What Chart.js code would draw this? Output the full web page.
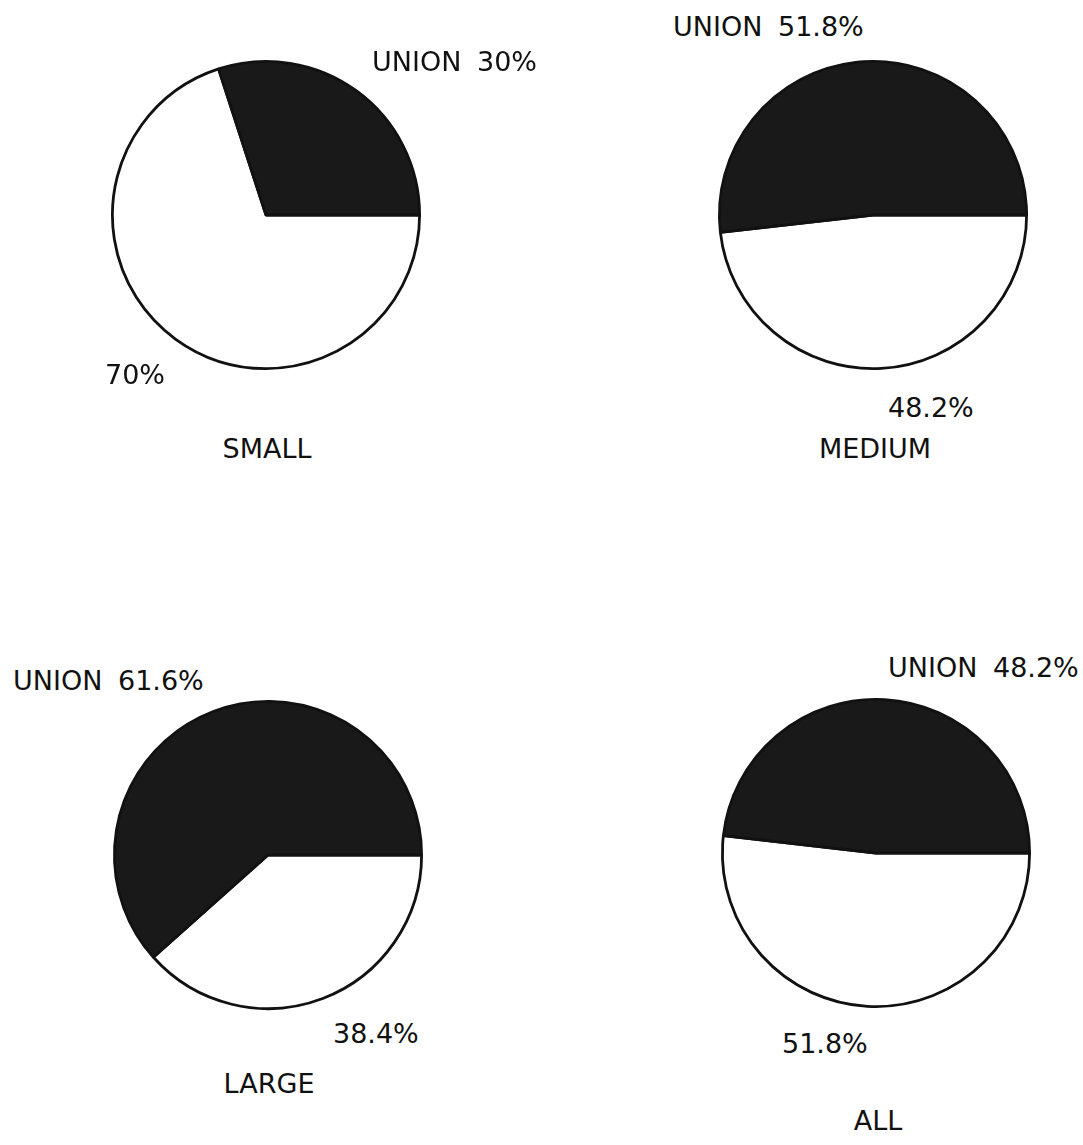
<!DOCTYPE html>
<html>
<head>
<meta charset="utf-8">
<script src="https://cdn.jsdelivr.net/npm/chart.js@4/dist/chart.umd.min.js"></script>
<style>
    body { margin: 0; background: #fff; width: 1083px; height: 1145px; position: relative; overflow: hidden; }
    canvas { position: absolute; }
    .lbl { position: absolute; font: 27px "DejaVu Sans", sans-serif; line-height: 27px; color: #111; white-space: pre; word-spacing: 7px; }
</style>
</head>
<body>
<script>
var groups = ["SMALL", "MEDIUM", "LARGE", "ALL"];
var unionPct = [30, 51.8, 61.6, 48.2];
var nonUnionPct = [70, 48.2, 38.4, 51.8];

// layout: pie centres, and label spots (left x, baseline y)
var centres = [[266, 215], [873, 215], [268, 855], [876, 853]];
var unionPos = [[372, 71], [673, 36], [13, 690], [888, 677]];
var otherPos = [[105, 384], [888, 417], [333, 1043], [782, 1053]];
var namePos = [[267, 458], [875, 458], [269, 1093], [878, 1130]];

var SIZE = 316;

var addLabel = function (text, x, y, centred) {
    var d = document.createElement("div");
    d.className = "lbl";
    d.textContent = text;
    d.style.top = (y - 23) + "px";
    d.style.left = x + "px";
    if (centred) d.style.transform = "translateX(-50%)";
    document.body.appendChild(d);
};

for (let i = 0; i < groups.length; i++) {
    var cv = document.createElement("canvas");
    cv.width = SIZE;
    cv.height = SIZE;
    cv.style.left = (centres[i][0] - SIZE / 2) + "px";
    cv.style.top = (centres[i][1] - SIZE / 2) + "px";
    document.body.appendChild(cv);

    new Chart(cv, {
        type: "pie",
        data: {
            labels: ["NON-UNION", "UNION"],
            datasets: [{
                data: [nonUnionPct[i], unionPct[i]],
                backgroundColor: ["#ffffff", "#191919"],
                borderColor: "#111111",
                borderWidth: 2.8
            }]
        },
        options: {
            responsive: false,
            animation: false,
            rotation: 90,
            layout: { padding: 3 },
            plugins: { legend: { display: false }, tooltip: { enabled: false } }
        }
    });

    addLabel("UNION " + unionPct[i] + "%", unionPos[i][0], unionPos[i][1], false);
    addLabel(nonUnionPct[i] + "%", otherPos[i][0], otherPos[i][1], false);
    addLabel(groups[i], namePos[i][0], namePos[i][1], true);
}
</script>
</body>
</html>
